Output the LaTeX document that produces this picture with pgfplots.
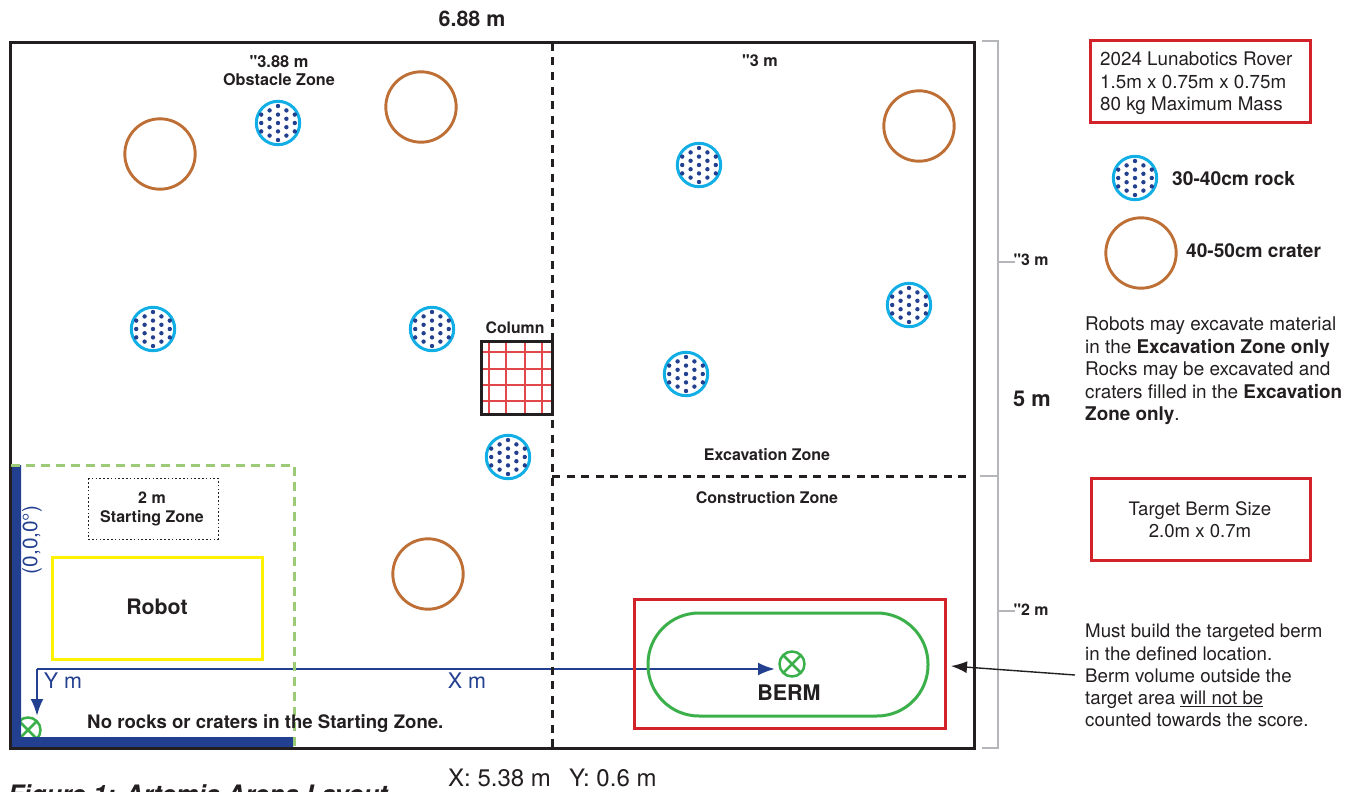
\documentclass[border=0pt]{standalone}
\usepackage{fontspec}
\setmainfont{TeX Gyre Heros}[Ligatures=TeXOff]
\usepackage{pgfplots}
\pgfplotsset{compat=1.18}
\usetikzlibrary{arrows.meta,plotmarks}

\definecolor{ink}{HTML}{231F20}
\definecolor{arenablue}{HTML}{233F8F}
\definecolor{rockcyan}{HTML}{12AEE6}
\definecolor{crater}{HTML}{BE6F35}
\definecolor{zonegreen}{HTML}{9CCB78}
\definecolor{bermgreen}{HTML}{3BB04A}
\definecolor{boxred}{HTML}{D2232A}
\definecolor{gridred}{HTML}{E2474B}
\definecolor{robotyellow}{HTML}{FFF200}
\definecolor{bracket}{HTML}{B4B6B9}

% rock symbol, one unit = one reference pixel
\pgfdeclareplotmark{rock}{%
  \pgfsetlinewidth{3pt}\pgfsetstrokecolor{rockcyan}%
  \pgfpathcircle{\pgfpointorigin}{21.7pt}\pgfusepathqstroke
  \pgfsetfillcolor{arenablue}%
  \foreach \dx/\dy in {0/-17,0/-8.4,0/0,0/8.4,0/17,
    -8.4/-12.6,-8.4/-4.2,-8.4/4.2,-8.4/12.6,
    8.4/-12.6,8.4/-4.2,8.4/4.2,8.4/12.6,
    -16.8/-8.4,-16.8/0,-16.8/8.4,
    16.8/-8.4,16.8/0,16.8/8.4}{%
    \pgfpathcircle{\pgfpoint{\dx pt}{\dy pt}}{2.2pt}}%
  \pgfusepathqfill
}

\newcommand{\fs}[1]{\fontsize{#1}{#1}\selectfont}

\begin{document}
\begin{tikzpicture}
\path[use as bounding box,clip] (0,0) rectangle (1354pt,792pt);
\begin{axis}[
  at={(0,0)},anchor=south west,
  scale only axis,width=1354pt,height=792pt,
  xmin=0,xmax=1354,ymin=0,ymax=792,
  y dir=reverse,
  hide axis,clip=false,clip mode=individual,
  unbounded coords=jump,
]
% origin marker, half hidden under the blue bar
\addplot[only marks,mark=otimes,mark size=12.5,mark options={draw=bermgreen,line width=2.5pt,fill=none}]
  coordinates {(28,730) (792,664)};
% blue start wall
\addplot[fill=arenablue,draw=none] coordinates {(10,465) (21,465) (21,737) (293,737) (293,748) (10,748)} --cycle;
% coordinate arrows
\addplot[arenablue,line width=2.4pt,-{Latex[length=17pt,width=13pt]}] coordinates {(37,669) (775,669)};
\addplot[arenablue,line width=2.4pt,-{Latex[length=17pt,width=13pt]}] coordinates {(37,669) (37,716)};
% arena frame
\addplot[ink,line width=3pt] coordinates {(10,43) (974,43) (974,748) (10,748)} --cycle;
% zone dividers
\addplot[ink,line width=3pt,dash pattern=on 8pt off 6.5pt] coordinates {(552,43) (552,748)};
\addplot[ink,line width=3pt,dash pattern=on 8pt off 6.5pt] coordinates {(552,476) (974,476)};
% starting zone
\addplot[zonegreen,line width=3pt,dash pattern=on 9pt off 6pt] coordinates {(11,465) (294,465) (294,748)};
\addplot[ink,line width=1pt,dash pattern=on 1.6pt off 2.2pt] coordinates {(88,478) (218,478) (218,539) (88,539)} --cycle;
\addplot[robotyellow,line width=3pt] coordinates {(52,557) (262,557) (262,659) (52,659)} --cycle;
% column
\addplot[gridred,line width=1.4pt] coordinates {
  (489,341) (489,414) (489,nan)
  (506,341) (506,414) (506,nan)
  (525,341) (525,414) (525,nan)
  (542,341) (542,414) (542,nan)
  (481,352) (552,352) (552,nan)
  (481,369) (552,369) (552,nan)
  (481,385) (552,385) (552,nan)
  (481,401) (552,401)};
\addplot[ink,line width=3pt] coordinates {(481,341) (552,341) (552,414) (481,414)} --cycle;
% rocks and craters
\addplot[only marks,mark=rock] coordinates {
  (278,123) (153,329) (432,329) (508,457) (699,165) (909,305) (686,374) (1135,178)};
\addplot[only marks,mark=o,mark size=35.2,mark options={draw=crater,line width=2.9pt}] coordinates {
  (160,154) (421,107) (428,574) (919,126) (1141,253)};
% berm
\addplot[boxred,line width=3pt] coordinates {(634,599) (945,599) (945,728) (634,728)} --cycle;
\addplot[bermgreen,line width=3pt,rounded corners=51pt] coordinates {(788,613) (928,613) (928,716) (648,716) (648,613) (788,613)};
% size bracket
\addplot[bracket,line width=1.5pt] coordinates {(982,41) (998,41) (998,748) (982,748)};
\addplot[bracket,line width=1.5pt] coordinates {(998,262) (1015,262)};
\addplot[bracket,line width=1.5pt] coordinates {(998,611) (1015,611)};
\addplot[bracket,line width=1.5pt] coordinates {(980,476) (998,476)};
% note boxes
\addplot[boxred,line width=3pt] coordinates {(1090,41) (1310,41) (1310,122) (1090,122)} --cycle;
\addplot[boxred,line width=3pt] coordinates {(1091,478) (1310,478) (1310,560) (1091,560)} --cycle;
% pointer to the berm
\addplot[ink,line width=1.4pt,-{Latex[length=16pt,width=12pt]}] coordinates {(1075,675) (951,666)};

\tikzset{every node/.style={inner sep=0pt,text=ink,align=center}}
\node[font=\fs{21.4}\bfseries] at (axis cs:472,19) {6.88 m};
\node[font=\fs{16.4}\bfseries] at (axis cs:279,62) {"3.88 m};
\node[font=\fs{16.2}\bfseries] at (axis cs:279,80) {Obstacle Zone};
\node[font=\fs{16.2}\bfseries] at (axis cs:760,61) {"3 m};
\node[font=\fs{15.8}\bfseries] at (axis cs:515,328) {Column};
\node[font=\fs{16}\bfseries] at (axis cs:767,455) {Excavation Zone};
\node[font=\fs{16}\bfseries] at (axis cs:767,498) {Construction Zone};
\node[font=\fs{16}\bfseries] at (axis cs:152,498) {2 m};
\node[font=\fs{16}\bfseries] at (axis cs:152,518) {Starting Zone};
\node[font=\fs{21.3}\bfseries] at (axis cs:157,607) {Robot};
\node[font=\fs{21.5}\bfseries] at (axis cs:789,693) {BERM};
\node[font=\fs{18.6}\bfseries,anchor=west] at (axis cs:87,724) {No rocks or craters in the Starting Zone.};
\node[font=\fs{20.8},text=arenablue,rotate=90] at (axis cs:32,540) {(0,0,0°)};
\node[font=\fs{21.5},text=arenablue] at (axis cs:63,681) {Y m};
\node[font=\fs{21.5},text=arenablue] at (axis cs:467,681) {X m};
\node[font=\fs{21.8}\bfseries] at (axis cs:1032,399) {5 m};
\node[font=\fs{15.9}\bfseries] at (axis cs:1031,260) {"3 m};
\node[font=\fs{15.9}\bfseries] at (axis cs:1031,610) {"2 m};
\node[font=\fontsize{18.8}{22.3}\selectfont,align=left,anchor=north west] at (axis cs:1100,52) {2024 Lunabotics Rover\\1.5m x 0.75m x 0.75m\\80 kg Maximum Mass};
\node[font=\fs{19.2}\bfseries,anchor=west] at (axis cs:1172,179) {30-40cm rock};
\node[font=\fs{19.1}\bfseries,anchor=west] at (axis cs:1186,251) {40-50cm crater};
\node[font=\fontsize{18.9}{22.5}\selectfont,align=left,anchor=north west] at (axis cs:1085,317) {Robots may excavate material\\in the \textbf{Excavation Zone only}\\Rocks may be excavated and\\craters filled in the \textbf{Excavation}\\\textbf{Zone only}.};
\node[font=\fontsize{18.6}{22}\selectfont] at (axis cs:1200,520) {Target Berm Size\\2.0m x 0.7m};
\node[font=\fontsize{18.7}{22.2}\selectfont,align=left,anchor=north west] at (axis cs:1085,624) {Must build the targeted berm\\in the defined location.\\Berm volume outside the\\target area \underline{will not be}\\counted towards the score.};
\node[font=\fs{24},anchor=west] at (axis cs:448,778) {X: 5.38 m};
\node[font=\fs{24},anchor=west] at (axis cs:569,778) {Y: 0.6 m};
\node[font=\fs{25.4}\bfseries\itshape,anchor=base west] at (axis cs:8,803) {Figure 1: Artemis Arena Layout};
\end{axis}
\end{tikzpicture}
\end{document}
